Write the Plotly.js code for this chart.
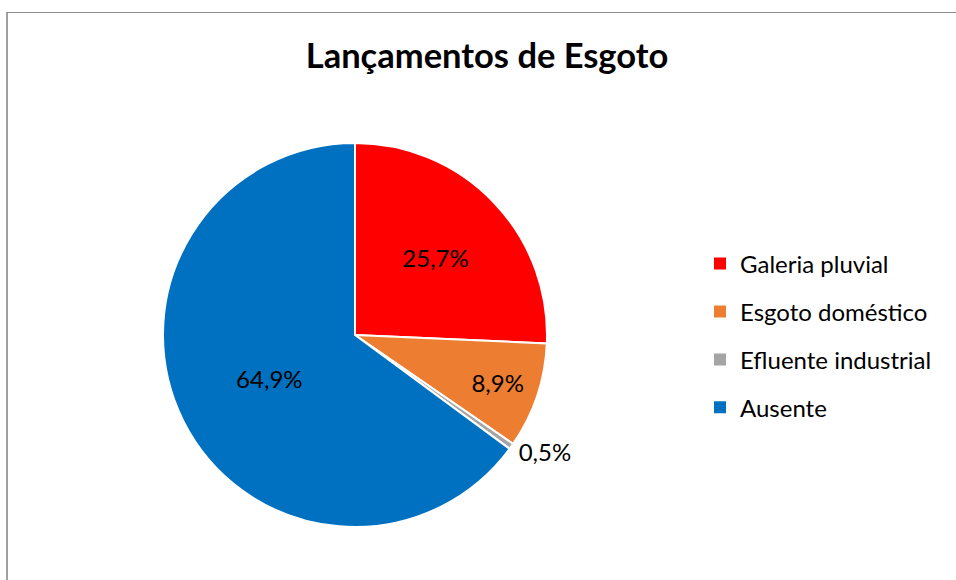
<!DOCTYPE html>
<html>
<head>
<meta charset="utf-8">
<script src="https://cdn.plot.ly/plotly-3.0.1.min.js"></script>
<style>
  html, body { margin: 0; padding: 0; background: #fff; }
  #wrap { position: relative; width: 956px; height: 580px; overflow: hidden; }
  #chart { width: 956px; height: 580px; }
  #frame { position: absolute; left: 6px; top: 12px; width: 1000px; height: 700px;
           border-top: 1px solid #8c8c8c; border-left: 2px solid #a0a0a0; pointer-events: none; }
</style>
</head>
<body>
<div id="wrap">
  <div id="chart"></div>
  <div id="frame"></div>
</div>
<script>
const categories = ["Galeria pluvial", "Esgoto doméstico", "Efluente industrial", "Ausente"];
const values = [25.7, 8.9, 0.5, 64.9];
const colors = ["#FF0000", "#ED7D31", "#A5A5A5", "#0070C0"];
const labelPositions = ["inside", "inside", "outside", "inside"];
const titleText = "Lançamentos de Esgoto";

const FONT = "Lato, 'Open Sans', sans-serif";

const pie = {
  type: "pie",
  labels: categories,
  values: values,
  sort: false,
  direction: "clockwise",
  rotation: 0,
  marker: { colors: colors, line: { color: "#ffffff", width: 2 } },
  texttemplate: "%{percent:.1%}",
  textposition: labelPositions,
  insidetextorientation: "horizontal",
  textfont: { family: FONT, size: 24, color: "#000000" },
  outsidetextfont: { family: FONT, size: 24, color: "#000000" },
  domain: { x: [163 / 956, 547 / 956], y: [53 / 580, 437 / 580] },
  showlegend: false,
  hoverinfo: "label+percent"
};

const legendTraces = categories.map((c, i) => ({
  type: "scatter",
  mode: "markers",
  x: [null], y: [null],
  name: c,
  legendgroup: "g" + i,
  marker: { symbol: "square", size: 12, color: colors[i] },
  showlegend: true,
  hoverinfo: "skip"
}));

const layout = {
  width: 956,
  height: 580,
  margin: { l: 0, r: 0, t: 0, b: 0 },
  paper_bgcolor: "#ffffff",
  plot_bgcolor: "#ffffff",
  separators: ",.",
  font: { family: FONT, color: "#000000" },
  title: {
    text: "<b>" + titleText + "</b>",
    font: { family: FONT, size: 34.5, color: "#000000" },
    x: 487 / 956, xref: "paper", xanchor: "center",
    y: 1 - 56 / 580, yref: "paper", yanchor: "middle"
  },
  xaxis: { visible: false, domain: [0.99, 1] },
  yaxis: { visible: false, domain: [0.99, 1] },
  showlegend: true,
  legend: {
    x: 700 / 956, xanchor: "left",
    y: 1 - 335.5 / 580, yanchor: "middle",
    font: { family: FONT, size: 24, color: "#000000" },
    tracegroupgap: 13.7,
    bgcolor: "rgba(0,0,0,0)"
  }
};

Plotly.newPlot("chart", [pie].concat(legendTraces), layout, { displayModeBar: false, staticPlot: true });
</script>
</body>
</html>
